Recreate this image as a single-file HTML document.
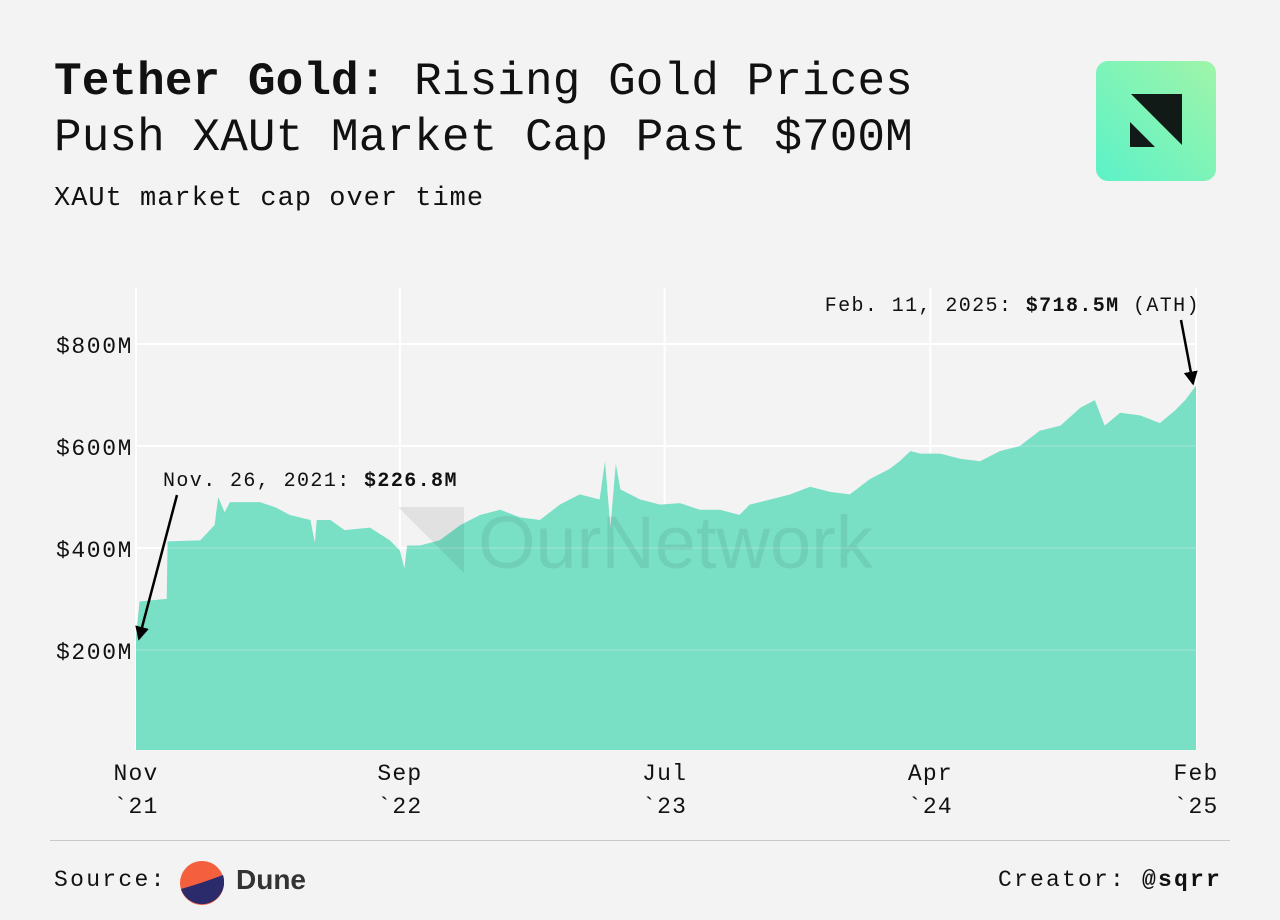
<!DOCTYPE html>
<html><head><meta charset="utf-8"><style>
body{margin:0;width:1280px;height:920px;background:#f3f3f3;font-family:"Liberation Mono",monospace;color:#111;overflow:hidden;position:relative}
.t{position:absolute;white-space:nowrap}
</style></head><body>
<div class="t" style="left:54px;top:54px;font-size:46px;line-height:56px;letter-spacing:0.1px"><b>Tether Gold:</b> Rising Gold Prices<br>Push XAUt Market Cap Past $700M</div>
<div class="t" style="left:54px;top:184px;font-size:27px;letter-spacing:1px">XAUt market cap over time</div>
<svg style="position:absolute;left:1096px;top:61px" width="120" height="120">
<defs><linearGradient id="lg" x1="1" y1="0" x2="0" y2="1"><stop offset="0" stop-color="#9ff5a8"/><stop offset="1" stop-color="#5cf2c8"/></linearGradient></defs>
<rect width="120" height="120" rx="12" fill="url(#lg)"/>
<polygon points="35,33 86,33 86,84" fill="#111a16"/><polygon points="34,61 34,86 59,86" fill="#111a16"/></svg>
<svg id="chart" style="position:absolute;left:0;top:0" width="1280" height="840"></svg>
<div style="position:absolute;left:50px;top:840px;width:1180px;height:1px;background:#c8c8c8"></div>
<div class="t" style="left:54px;top:867px;font-size:23px;letter-spacing:2.3px">Source:</div>
<svg style="position:absolute;left:180px;top:861px" width="44" height="44"><circle cx="22" cy="22" r="22" fill="#f4603e"/><path d="M1,28 Q22,22 43,14 A22,22 0 0 1 1,28Z" fill="#2b2a6b"/></svg>
<div class="t" style="left:236px;top:864px;font-family:'Liberation Sans',sans-serif;font-weight:bold;font-size:28px;color:#333">Dune</div>
<div class="t" style="left:998px;top:867px;font-size:23px;letter-spacing:2.2px">Creator: <b>@sqrr</b></div>
<script>
const days=[0,4,32,34,35,71,87,91,98,104,137,154,170,193,198,200,215,231,259,281,292,297,300,314,336,359,381,403,425,447,469,491,513,519,525,531,536,558,580,602,624,646,668,679,702,724,746,768,790,812,834,845,857,868,890,912,934,956,978,1000,1023,1045,1061,1072,1089,1111,1133,1150,1161,1173];
const values=[226,295,300,300,413,415,445,500,470,490,490,480,465,455,410,455,455,435,440,415,395,360,405,405,415,445,465,475,460,455,485,505,495,570,440,565,515,495,485,488,475,475,465,485,495,505,520,510,505,535,555,570,590,585,585,575,570,590,600,630,640,675,690,640,665,660,645,670,690,718.5];
const yTicks=[200,400,600,800];
const yTickLabels=["$200M","$400M","$600M","$800M"];
const xTickDays=[0,292,585,879,1173];
const xTickLabels=[["Nov","`21"],["Sep","`22"],["Jul","`23"],["Apr","`24"],["Feb","`25"]];
const X0=136,X1=1196,Y0=752,PX=0.51;
const xs=d=>X0+d/1173*(X1-X0), ys=v=>Y0-v*PX;
const svg=document.getElementById('chart'),NS='http://www.w3.org/2000/svg';
function mk(tag,at){const e=document.createElementNS(NS,tag);for(const k in at)e.setAttribute(k,at[k]);svg.appendChild(e);return e;}
yTicks.forEach((v,i)=>{const g=mk('line',{x1:X0,x2:X1,y1:ys(v),y2:ys(v),stroke:'#fff','stroke-width':2});


const t=mk('text',{x:56,y:ys(v)+9,'font-size':23,'letter-spacing':1.6,'font-family':'Liberation Mono, monospace',fill:'#111'});t.textContent=yTickLabels[i];

});
xTickDays.forEach((d,i)=>{const g=mk('line',{x1:xs(d),x2:xs(d),y1:288,y2:750,stroke:'#fff','stroke-width':2});


xTickLabels[i].forEach((s,j)=>{const t=mk('text',{x:xs(d),y:780+j*33,'font-size':23,'letter-spacing':1.2,'text-anchor':'middle','font-family':'Liberation Mono, monospace',fill:'#111'});t.textContent=s;

});});
let p='M'+xs(days[0])+','+750;
days.forEach((d,i)=>{p+='L'+xs(d).toFixed(1)+','+ys(values[i]).toFixed(1);});
p+='L'+xs(days[days.length-1])+',750Z';
const a=mk('path',{d:p,fill:'#79dfc5'});


yTicks.forEach(v=>{const l=mk('line',{x1:X0,x2:X1,y1:ys(v),y2:ys(v),stroke:'#fff','stroke-opacity':0.15,'stroke-width':2});

});
const wm=mk('text',{x:478,y:568,'font-size':74,'font-family':'Liberation Sans, sans-serif',fill:'#000','fill-opacity':0.07});wm.textContent='OurNetwork';


const wl=mk('polygon',{points:'398,507 464,507 464,573',fill:'#000','fill-opacity':0.07});


mk('defs',{}).innerHTML='<marker id="ar" markerWidth="14" markerHeight="14" refX="12" refY="7" orient="auto" markerUnits="userSpaceOnUse"><path d="M0,0L14,7L0,14Z" fill="#000"/></marker>';
const a1=mk('line',{x1:177,y1:495,x2:xs(0)+3,y2:ys(values[0])+2,stroke:'#000','stroke-width':2.5,'marker-end':'url(#ar)'});


const t1=mk('text',{x:163,y:486,'font-size':20,'letter-spacing':1.4,'font-family':'Liberation Mono, monospace',fill:'#111'});t1.innerHTML='Nov. 26, 2021: <tspan font-weight="bold">$226.8M</tspan>';


const last=days.length-1;
const a2=mk('line',{x1:1181,y1:320,x2:xs(days[last])-3,y2:ys(values[last])-2,stroke:'#000','stroke-width':2.5,'marker-end':'url(#ar)'});


const t2=mk('text',{x:1200,y:311,'font-size':20,'letter-spacing':1.4,'text-anchor':'end','font-family':'Liberation Mono, monospace',fill:'#111'});t2.innerHTML='Feb. 11, 2025: <tspan font-weight="bold">$718.5M</tspan> (ATH)';


</script>
</body></html>
